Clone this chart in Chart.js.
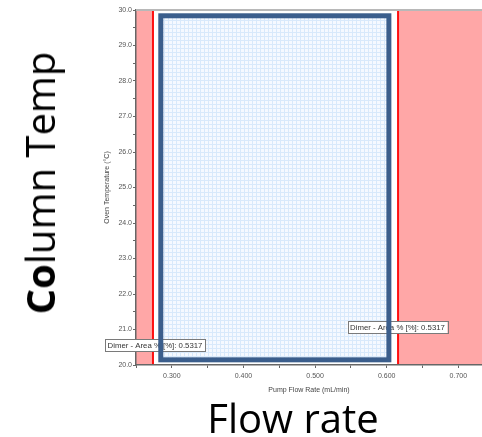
<!DOCTYPE html>
<html>
<head>
<meta charset="utf-8">
<script src="https://cdn.jsdelivr.net/npm/chart.js@4/dist/chart.umd.min.js"></script>
<style>
  html, body { margin: 0; padding: 0; background: #fff; }
  #wrap { position: relative; width: 482px; height: 437px; overflow: hidden; }
  #chart { position: absolute; left: 0; top: 0; }
  .big { position: absolute; font-family: "Open Sans", Lato, sans-serif; font-size: 40px;
         color: #000; white-space: nowrap; line-height: 1; }
  #colTemp { left: 40px; top: 183px; transform: translate(-50%, -50%) rotate(-90deg); }
  #flowRate { left: 293px; top: 418px; transform: translate(-50%, -50%); }
</style>
</head>
<body>
<div id="wrap">
  <canvas id="chart" width="482" height="437"></canvas>
  <div class="big" id="colTemp"><b>Co</b>lumn Temp</div>
  <div class="big" id="flowRate">Flow rate</div>
</div>
<script>
// Axis ranges
const flowRange = [0.25, 0.733];
const tempRange = [20, 30];

// Tick positions (major ones carry labels)
const flowMajor = [0.3, 0.4, 0.5, 0.6, 0.7];
const flowMinor = [0.25, 0.35, 0.45, 0.55, 0.65];
const tempMajor = [20, 21, 22, 23, 24, 25, 26, 27, 28, 29, 30];
const tempMinor = [20.5, 21.5, 22.5, 23.5, 24.5, 25.5, 26.5, 27.5, 28.5, 29.5];

// Failure regions along the flow axis and their boundary lines
const failZones = [[0.25, 0.2737], [0.6158, 0.733]];
const failEdges = [0.2737, 0.6158];

// Chosen operating window
const designFlow = [0.2846, 0.603];
const designTemp = [20.146, 29.837];

// Contour labels
const labelFlow = [0.2765, 0.6150];
const labelTemp = [20.56, 21.06];
const labelText = ['Dimer - Area % [%]: 0.5317', 'Dimer - Area % [%]: 0.5317'];

const smallFont = { family: '"Liberation Sans", Arial, sans-serif', size: 7 };
const labelFont = '7.8px "Liberation Sans", Arial, sans-serif';

// light blue grid texture for the window fill
function makeTexture() {
  const t = document.createElement('canvas');
  t.width = 4; t.height = 4;
  const c = t.getContext('2d');
  c.fillStyle = '#f5f9ff'; c.fillRect(0, 0, 4, 4);
  c.fillStyle = '#d8e9fb'; c.fillRect(0, 0, 4, 1); c.fillRect(0, 0, 1, 4);
  return t;
}
const texture = makeTexture();

const near = (a, b) => Math.abs(a - b) < 1e-6;

function windowRect(x, y) {
  const x0 = x.getPixelForValue(designFlow[0]), x1 = x.getPixelForValue(designFlow[1]);
  const y0 = y.getPixelForValue(designTemp[1]), y1 = y.getPixelForValue(designTemp[0]);
  return [x0, y0, x1 - x0, y1 - y0];
}

const zonesPlugin = {
  id: 'zones',
  beforeDraw(chart) {
    const { ctx, chartArea: a, scales: { x, y } } = chart;
    ctx.save();
    ctx.beginPath();
    ctx.rect(a.left, a.top, a.right - a.left, a.bottom - a.top);
    ctx.clip();
    ctx.fillStyle = '#ffa7a7';
    failZones.forEach(([f0, f1]) => {
      const x0 = x.getPixelForValue(f0), x1 = x.getPixelForValue(f1);
      ctx.fillRect(x0, a.top, x1 - x0, a.bottom - a.top);
    });
    ctx.strokeStyle = '#ff1010';
    ctx.lineWidth = 2;
    failEdges.forEach(f => {
      const px = x.getPixelForValue(f);
      ctx.beginPath(); ctx.moveTo(px, a.top); ctx.lineTo(px, a.bottom); ctx.stroke();
    });
    // window fill
    ctx.fillStyle = ctx.createPattern(texture, 'repeat');
    ctx.fillRect(...windowRect(x, y));
    ctx.restore();
  },
  afterDraw(chart) {
    const { ctx, chartArea: a, scales: { x, y } } = chart;
    ctx.save();
    // top frame line
    ctx.strokeStyle = '#b8b8b8';
    ctx.lineWidth = 2;
    ctx.beginPath(); ctx.moveTo(a.left, a.top); ctx.lineTo(a.right, a.top); ctx.stroke();

    // contour labels
    ctx.font = labelFont;
    ctx.textAlign = 'center';
    ctx.textBaseline = 'middle';
    labelText.forEach((txt, i) => {
      const cx = x.getPixelForValue(labelFlow[i]);
      const cy = y.getPixelForValue(labelTemp[i]);
      const w = ctx.measureText(txt).width + 5, h = 12;
      ctx.fillStyle = '#fff';
      ctx.fillRect(cx - w / 2, cy - h / 2, w, h);
      ctx.strokeStyle = '#7a7a7a';
      ctx.lineWidth = 1;
      ctx.strokeRect(Math.round(cx - w / 2) + 0.5, Math.round(cy - h / 2) + 0.5, Math.round(w), h);
      ctx.fillStyle = '#333';
      ctx.fillText(txt, cx, cy + 0.5);
    });

    // operating window outline
    ctx.strokeStyle = '#3b5e8c';
    ctx.lineWidth = 5;
    ctx.strokeRect(...windowRect(x, y));
    ctx.restore();
  }
};

new Chart(document.getElementById('chart'), {
  type: 'scatter',
  data: { datasets: [] },
  plugins: [zonesPlugin],
  options: {
    responsive: false,
    animation: false,
    devicePixelRatio: 1,
    layout: { padding: { left: 100, top: 10, right: 0, bottom: 41 } },
    plugins: { legend: { display: false }, tooltip: { enabled: false } },
    scales: {
      x: {
        type: 'linear',
        min: flowRange[0], max: flowRange[1],
        afterFit: s => { s.height = 31; },
        afterBuildTicks: s => {
          s.ticks = flowMajor.concat(flowMinor).sort((a, b) => a - b).map(v => ({ value: v }));
        },
        ticks: {
          autoSkip: false, maxRotation: 0, padding: 4,
          font: smallFont, color: '#555',
          callback: v => flowMajor.some(m => near(m, v)) ? v.toFixed(3) : ''
        },
        grid: { drawOnChartArea: false, tickLength: 3, color: '#666' },
        border: { color: '#666', width: 1.5 },
        title: { display: true, text: 'Pump Flow Rate (mL/min)', font: smallFont, color: '#444',
                 padding: { top: 2, bottom: 2 } }
      },
      y: {
        type: 'linear',
        min: tempRange[0], max: tempRange[1],
        afterFit: s => { s.width = 36; },
        afterBuildTicks: s => {
          s.ticks = tempMajor.concat(tempMinor).sort((a, b) => a - b).map(v => ({ value: v }));
        },
        ticks: {
          autoSkip: false, padding: 1,
          font: smallFont, color: '#555',
          callback: v => tempMajor.some(m => near(m, v)) ? v.toFixed(1) : ''
        },
        grid: { drawOnChartArea: false, tickLength: 3, color: '#666' },
        border: { color: '#666', width: 1.5 },
        title: { display: true, text: 'Oven Temperature (°C)', font: smallFont, color: '#444',
                 padding: { top: 3, bottom: 2 } }
      }
    }
  }
});
</script>
</body>
</html>
